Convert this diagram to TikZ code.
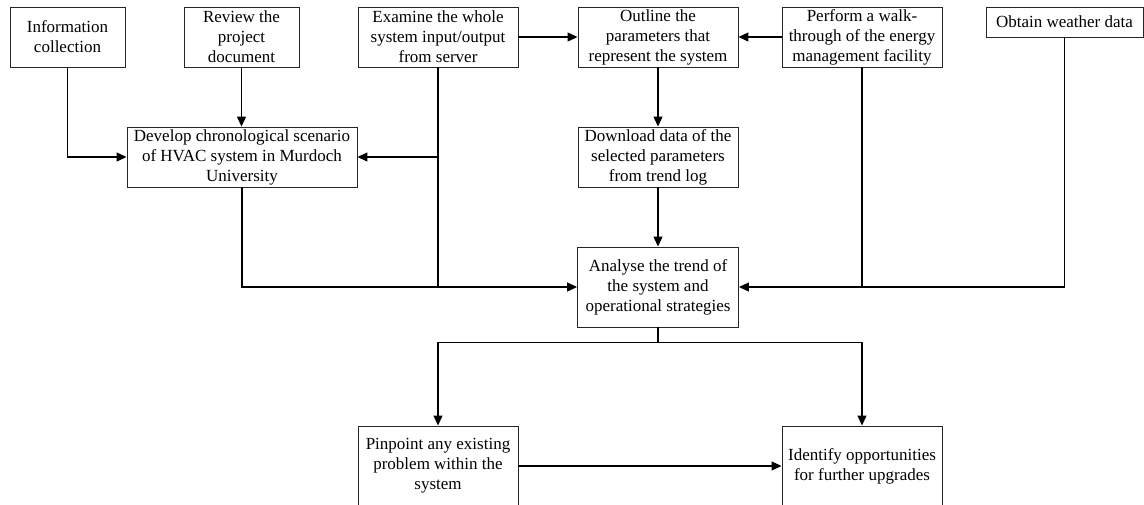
\documentclass[tikz,border=0pt]{standalone}
\usepackage{fontspec}
\setmainfont{Liberation Serif}
\usetikzlibrary{arrows.meta,calc}
\tikzset{
  box/.style={draw=black!85, line width=0.9pt, fill=white, inner sep=0pt, align=center,
              font=\fontsize{17}{20}\selectfont, minimum width=160pt, minimum height=60pt},
  link/.style={draw=black, line width=1.2pt},
  arr/.style={link, -{Triangle[length=10pt,width=9pt]}},
}
\begin{document}
\begin{tikzpicture}[x=1pt,y=-1pt]
\useasboundingbox (0,0) rectangle (1144,504);
% top row
\node[box, minimum width=115pt] (info) at (67.5,37) {Information\\collection};
\node[box, minimum width=115pt] (review) at (241.5,37) {Review the\\project\\document};
\node[box] (examine) at (438,37) {Examine the whole\\system input/output\\from server};
\node[box] (outline) at (658,37) {Outline the\\parameters that\\represent the system};
\node[box] (perform) at (862,37) {Perform a walk-\\through of the energy\\management facility};
\node[box, minimum width=157pt, minimum height=30pt] (weather) at (1064.5,22) {Obtain weather data};
% second row
\node[box, minimum width=230pt] (develop) at (242,157) {Develop chronological scenario\\of HVAC system in Murdoch\\University};
\node[box] (download) at (658,157) {Download data of the\\selected parameters\\from trend log};
% analyse
\node[box, minimum width=161pt, minimum height=80pt] (analyse) at (658,287) {Analyse the trend of\\the system and\\operational strategies};
% bottom row
\node[box, minimum height=80pt] (pinpoint) at (438,466) {Pinpoint any existing\\problem within the\\system};
\node[box, minimum height=80pt] (identify) at (862,466) {Identify opportunities\\for further upgrades};
% connectors
\draw[arr] (info.south) |- (develop.west);
\draw[arr] (review.south) -- (review.south |- develop.north);
\draw[arr] (examine.east) -- (outline.west);
\draw[arr] (perform.west) -- (outline.east);
\draw[arr] (outline.south) -- (download.north);
\draw[arr] (download.south) -- (analyse.north);
\coordinate (exdev) at (examine.south |- develop.east);
\coordinate (exan) at (examine.south |- analyse.west);
\draw[link] (examine.south) -- (exan);
\draw[arr] (exdev) -- (develop.east);
\draw[arr] (develop.south) |- (analyse.west);
\draw[arr] (perform.south) |- (analyse.east);
\coordinate (perfan) at (perform.south |- analyse.east);
\draw[link] (weather.south) |- (perfan);
\coordinate (split) at ($(analyse.south)+(0,15)$);
\draw[link] (analyse.south) -- (split);
\draw[arr] (split) -| (pinpoint.north);
\draw[arr] (split) -| (identify.north);
\draw[arr] (pinpoint.east) -- (identify.west);
\end{tikzpicture}
\end{document}
